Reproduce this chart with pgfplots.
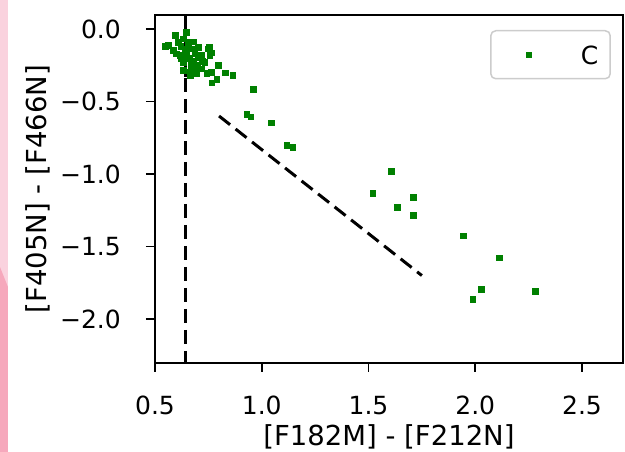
\documentclass[border=0pt]{standalone}
\usepackage{fontspec}
\setmainfont{DejaVu Sans}
\usepackage{pgfplots}
\pgfplotsset{compat=1.18}
\definecolor{mplgreen}{RGB}{0,128,0}
\definecolor{pinkA}{RGB}{250,210,222}
\definecolor{pinkB}{RGB}{246,168,188}
\begin{document}
\begin{tikzpicture}
\path[use as bounding box] (-155pt,-89pt) rectangle (470pt,363pt);
\fill[pinkA] (-155pt,-89pt) rectangle (-147pt,363pt);
\fill[pinkB] (-155pt,96pt) -- (-147pt,76pt) -- (-147pt,-89pt) -- (-155pt,-89pt) -- cycle;
\begin{axis}[
 at={(0pt,0pt)}, anchor=south west,
 width=468pt, height=348pt, scale only axis,
 xmin=0.5, xmax=2.692, ymin=-2.303, ymax=0.0966,
 xtick={0.5,1,1.5,2,2.5}, xticklabels={0.5,1.0,1.5,2.0,2.5},
 ytick={-2,-1.5,-1,-0.5,0}, yticklabels={−2.0,−1.5,−1.0,−0.5,0.0},
 xtick pos=bottom, ytick pos=left, tick align=outside, major tick length=9pt,
 every tick/.style={black, line width=1.6pt},
 axis line style={black, line width=1.8pt},
 ticklabel style={font=\fontsize{25}{30}\selectfont},
 xticklabel style={anchor=north, inner sep=0pt, yshift=-24pt},
 yticklabel style={anchor=east, inner sep=0pt, xshift=-25pt},
 xlabel={{}[F182M] - [F212N]}, ylabel={{}[F405N] - [F466N]},
 label style={font=\fontsize{27.5}{32}\selectfont},
 xlabel style={at={(axis description cs:0.5,-0.2371)}, anchor=base, inner sep=0pt},
 ylabel style={at={(axis description cs:-0.2321,0.5)}, anchor=base, inner sep=0pt},
 legend style={at={(axis description cs:1,1)}, anchor=north east, xshift=-12pt, yshift=-15pt,
   draw=black!20, line width=1.5pt, rounded corners=5pt, inner xsep=12pt, inner ysep=0pt,
   fill=white, font=\fontsize{25}{30}\selectfont, cells={anchor=center},
   nodes={inner sep=0pt, text depth=0pt}},
 legend image code/.code={\path[draw=none, fill=none] (0pt,-24pt) rectangle (78pt,24pt);
   \draw plot coordinates {(26pt,0pt)};},
 after end axis/.code={\draw[black, line width=1.8pt] (rel axis cs:0,0) rectangle (rel axis cs:1,1);},
]
\addplot[only marks, mark=square*, mark size=2.8pt, color=mplgreen, mark options={line width=0.4pt}]
coordinates {
(0.545,-0.117) (0.561,-0.112) (0.547,-0.122) (0.584,-0.147) (0.595,-0.043)
(0.608,-0.090) (0.600,-0.170) (0.616,-0.181) (0.623,-0.205) (0.631,-0.228)
(0.631,-0.067) (0.645,-0.021) (0.655,-0.090) (0.670,-0.136) (0.679,-0.088)
(0.686,-0.170) (0.701,-0.193) (0.701,-0.124) (0.717,-0.181) (0.748,-0.136)
(0.754,-0.122) (0.756,-0.181) (0.762,-0.163) (0.733,-0.228) (0.670,-0.250)
(0.663,-0.297) (0.693,-0.297) (0.717,-0.274) (0.795,-0.250) (0.764,-0.297)
(0.742,-0.306) (0.695,-0.306) (0.633,-0.283) (0.664,-0.317) (0.647,-0.181)
(0.640,-0.140) (0.660,-0.200) (0.680,-0.220) (0.700,-0.250) (0.620,-0.120)
(0.720,-0.220) (0.828,-0.301) (0.864,-0.317) (0.789,-0.345) (0.766,-0.370)
(0.960,-0.416) (0.929,-0.586) (0.948,-0.605) (1.043,-0.646) (1.117,-0.800)
(1.145,-0.816) (1.605,-0.979) (1.520,-1.133) (1.710,-1.161) (1.635,-1.230)
(1.710,-1.285) (1.944,-1.425) (2.111,-1.577) (2.027,-1.795) (1.988,-1.864)
(2.281,-1.807)
};
\addlegendentry{C}
\addplot[black, line width=3pt, dash pattern=on 14pt off 7pt, forget plot]
 coordinates {(0.645,0.0966) (0.645,-2.303)};
\addplot[black, line width=3pt, forget plot]
 coordinates {(0.645,0.0966) (0.645,-0.33)};
\addplot[black, line width=3pt, dash pattern=on 14pt off 7pt, forget plot]
 coordinates {(0.8,-0.6) (1.75,-1.7)};
\end{axis}
\end{tikzpicture}
\end{document}
